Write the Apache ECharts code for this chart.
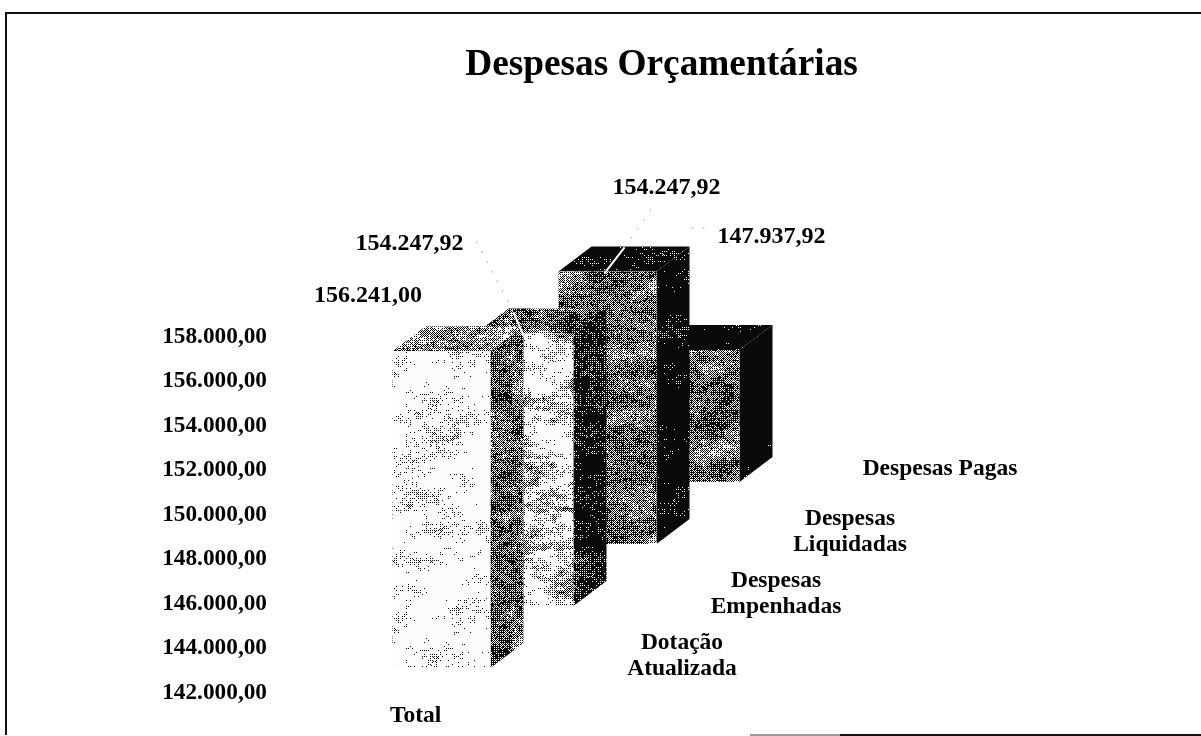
<!DOCTYPE html>
<html><head><meta charset="utf-8">
<style>html,body{margin:0;padding:0;background:#fff}#c{width:1201px;height:736px}</style>
<script src="https://cdn.jsdelivr.net/npm/echarts@6/dist/echarts.min.js"></script>
</head><body><div id="c"></div>
<script>
var categories = ['Dotação\nAtualizada', 'Despesas\nEmpenhadas', 'Despesas\nLiquidadas', 'Despesas Pagas'];
var values = [156241.00, 154247.92, 154247.92, 147937.92];
var valueLabels = ['156.241,00', '154.247,92', '154.247,92', '147.937,92'];
var tickMin = 142000, tickMax = 158000, tickStep = 2000;
var groupLabel = 'Total';
var titleText = 'Despesas Orçamentárias';

// projection of the fake 3D
var BAR_W = 98, DEPTH_X = 33, DEPTH_Y = 25, STEP_Y = 62, LIFT = 24.5;
// label placement relative to the bar's front corners
var LABEL_OFF = [[-24.5, -55], [-66, -90], [108, -84], [130, -113]];
var NAME_OFF = [[289.5, -12], [300.5, -12], [291.5, -12], [298.5, -13]];
var FONT = 'bold 23.5px "Liberation Serif","Times New Roman",serif';
var VALUE_FONT = 'bold 24px "Liberation Serif","Times New Roman",serif';

function hash(x, y, s) {
  var h = (Math.imul(x, 374761393) + Math.imul(y, 668265263) + Math.imul(s, 1597334677)) | 0;
  h = Math.imul(h ^ (h >>> 13), 1274126177);
  return ((h ^ (h >>> 16)) >>> 0) / 4294967296;
}
function vnoise(x, y, s, px, py) {
  var xi = Math.floor(x), yi = Math.floor(y), fx = x - xi, fy = y - yi;
  fx = fx * fx * (3 - 2 * fx); fy = fy * fy * (3 - 2 * fy);
  var a = hash(xi % px, yi % py, s), b = hash((xi + 1) % px, yi % py, s);
  var c = hash(xi % px, (yi + 1) % py, s), d = hash((xi + 1) % px, (yi + 1) % py, s);
  return (a * (1 - fx) + b * fx) * (1 - fy) + (c * (1 - fx) + d * fx) * fy;
}
var BAYER = [0.125, 0.625, 0.875, 0.375];
function texture(base, amp, seed) {
  var S = 256, cv = document.createElement('canvas');
  cv.width = S; cv.height = S;
  var ctx = cv.getContext('2d'), img = ctx.createImageData(S, S);
  for (var y = 0; y < S; y++) for (var x = 0; x < S; x++) {
    var sx = x + (y >> 1);
    var v = 0.55 * vnoise(sx / 32, y / 16, seed, 16, 16) + 0.45 * vnoise(x / 8, y / 4, seed + 9, 32, 64);
    var q = base + amp * (v - 0.5) * 3 + (hash(x, y, seed + 3) - 0.5) * 0.45;
    var t = BAYER[(x & 1) + 2 * (y & 1)];
    var c = q > t ? 10 : 252, i = (x + y * S) * 4;
    img.data[i] = img.data[i + 1] = img.data[i + 2] = c; img.data[i + 3] = 255;
  }
  ctx.putImageData(img, 0, 0);
  return { image: cv, repeat: 'repeat' };
}
var TEX = [
  { front: texture(-0.08, 0.3, 11), side: texture(0.62, 0.25, 12), top: texture(0.36, 0.3, 13) },
  { front: texture(0.14, 0.45, 21), side: texture(0.92, 0.22, 22), top: texture(0.62, 0.25, 23) },
  { front: texture(0.58, 0.22, 31), side: texture(1.15, 0.3, 32), top: texture(1.05, 0.3, 33) },
  { front: texture(0.58, 0.28, 41), side: texture(1.3, 0.3, 42), top: texture(1.1, 0.3, 43) }
];
// leader lines: white part on the bar, faint part off the bar, relative to front top-left
var LEADERS = [
  null,
  { solid: [[38, -21], [48, 2]], faint: [[1, -92], [38, -21]] },
  { solid: [[46, 2], [66, -24]], faint: [[66, -24], [97, -68]] },
  { solid: null, faint: [[50, -122], [64, -122]] }
];

function renderItem(params, api) {
  var i = params.dataIndex;
  var cx = api.coord([i, values[i]])[0];
  var topY = api.coord([i, values[i]])[1] - i * STEP_Y - LIFT;
  var botY = api.coord([i, tickMin])[1] - i * STEP_Y - LIFT;
  var L = cx - BAR_W / 2, R = cx + BAR_W / 2, z = (4 - i) * 10, t = TEX[i];
  var kids = [
    { type: 'polygon', z2: z, shape: { points: [[L, topY], [L + DEPTH_X, topY - DEPTH_Y], [R + DEPTH_X, topY - DEPTH_Y], [R, topY]] }, style: { fill: t.top } },
    { type: 'polygon', z2: z, shape: { points: [[R, topY], [R + DEPTH_X, topY - DEPTH_Y], [R + DEPTH_X, botY - DEPTH_Y], [R, botY]] }, style: { fill: t.side } },
    { type: 'rect', z2: z, shape: { x: L, y: topY, width: BAR_W, height: botY - topY }, style: { fill: t.front } }
  ];
  var ld = LEADERS[i];
  if (ld) {
    if (ld.faint) kids.push({ type: 'line', z2: 100, shape: { x1: L + ld.faint[0][0], y1: topY + ld.faint[0][1], x2: L + ld.faint[1][0], y2: topY + ld.faint[1][1] }, style: { stroke: '#aaa', lineWidth: 1, lineDash: [2, 9] } });
    if (ld.solid) kids.push({ type: 'line', z2: 100, shape: { x1: L + ld.solid[0][0], y1: topY + ld.solid[0][1], x2: L + ld.solid[1][0], y2: topY + ld.solid[1][1] }, style: { stroke: '#fff', lineWidth: 2 } });
  }
  kids.push({ type: 'text', z2: 110, style: { text: valueLabels[i], x: L + LABEL_OFF[i][0], y: topY + LABEL_OFF[i][1], align: 'center', verticalAlign: 'middle', font: VALUE_FONT, fill: '#000' } });
  kids.push({ type: 'text', z2: 110, style: { text: categories[i], x: L + NAME_OFF[i][0], y: botY + NAME_OFF[i][1], align: 'center', verticalAlign: 'middle', font: FONT, fill: '#000', lineHeight: 26 } });
  return { type: 'group', children: kids };
}

var chart = echarts.init(document.getElementById('c'), null, { renderer: 'canvas' });
chart.setOption({
  animation: false,
  backgroundColor: '#fff',
  title: { text: titleText, left: 656.5, top: 42, textAlign: 'center', textStyle: { fontFamily: '"Liberation Serif"', fontWeight: 'bold', fontSize: 37.3, color: '#000' } },
  grid: { left: 400, top: 336.5, width: 332, height: 356 },
  xAxis: { type: 'category', data: categories, axisLine: { show: false }, axisTick: { show: false }, axisLabel: { show: false }, splitLine: { show: false } },
  yAxis: {
    type: 'value', min: tickMin, max: tickMax, interval: tickStep,
    axisLine: { show: false }, axisTick: { show: false }, splitLine: { show: false },
    axisLabel: { margin: 133, color: '#000', fontFamily: '"Liberation Serif"', fontWeight: 'bold', fontSize: 23.3,
      formatter: function (v) { return (v / 1000).toFixed(3) + ',00'; } }
  },
  graphic: [
    { type: 'polyline', silent: true, shape: { points: [[6, 735], [6, 13], [1201, 13]] }, style: { stroke: '#111', lineWidth: 2, fill: null } },
    { type: 'line', silent: true, shape: { x1: 750, y1: 735, x2: 840, y2: 735 }, style: { stroke: '#999', lineWidth: 2 } },
    { type: 'line', silent: true, shape: { x1: 840, y1: 735, x2: 1201, y2: 735 }, style: { stroke: '#111', lineWidth: 2 } },
    { type: 'text', silent: true, style: { text: groupLabel, x: 390, y: 704, font: FONT, fill: '#000' } }
  ],
  series: [{ type: 'custom', clip: false, renderItem: renderItem, encode: { x: 0, y: 1 },
    data: values.map(function (v, i) { return [i, v]; }) }]
});
</script></body></html>
